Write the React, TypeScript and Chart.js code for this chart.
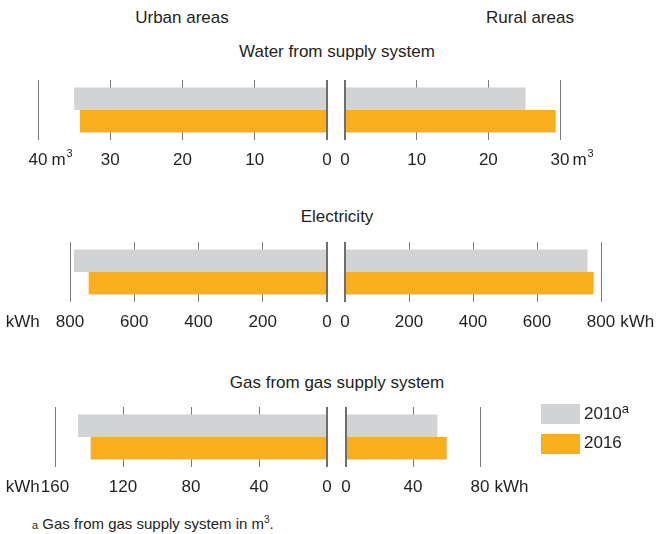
import React, { useEffect, useRef } from 'react';
import { Chart, registerables } from 'chart.js';

Chart.register(...registerables);

// ---------- data ----------
const SERIES = ['2010', '2016'];
const SERIES_SUP = ['a', ''];
const SERIES_COLORS = ['#d1d3d4', '#f9ae1b'];

const AREA_TITLES = ['Urban areas', 'Rural areas'];
const PANEL_TITLES = ['Water from supply system', 'Electricity', 'Gas from gas supply system'];

// values: [2010, 2016]
const WATER_URBAN = [35.0, 34.2];
const WATER_RURAL = [25.2, 29.4];
const ELEC_URBAN = [788, 742];
const ELEC_RURAL = [758, 777];
const GAS_URBAN = [146.5, 139];
const GAS_RURAL = [54.6, 60.1];

const WATER_URBAN_TICKS = [0, 10, 20, 30, 40];
const WATER_RURAL_TICKS = [0, 10, 20, 30];
const ELEC_URBAN_TICKS = [0, 200, 400, 600, 800];
const ELEC_RURAL_TICKS = [0, 200, 400, 600, 800];
const GAS_URBAN_TICKS = [0, 40, 80, 120, 160];
const GAS_RURAL_TICKS = [0, 40, 80];

const UNIT_WATER = 'm';
const UNIT_WATER_SUP = '3';
const UNIT_ENERGY = 'kWh';

const FOOTNOTE_MARK = 'a';
const FOOTNOTE_TEXT = 'Gas from gas supply system in m';
const FOOTNOTE_SUP = '3';
const FOOTNOTE_END = '.';

// ---------- style / layout ----------
const W = 663;
const FONT = '"Liberation Sans", Arial, sans-serif';
const FONT_SIZE = 17;
const TEXT = '#231f20';
const GRID = '#7a7b7e';
const ZERO = '#6d6e71';
const AREA_H = 60;
const AXIS_H = 40;
const TICK_PAD = 10;

type Panel = {
  top: number;
  data: number[];
  ticks: number[];
  left: number;
  right: number;
  reverse: boolean;
  unit: string;
  unitSup: string;
  unitSide: 'before' | 'after';
  gap: number;
};

const PANELS: Panel[] = [
  { top: 80, data: WATER_URBAN, ticks: WATER_URBAN_TICKS, left: 38, right: 327, reverse: true, unit: UNIT_WATER, unitSup: UNIT_WATER_SUP, unitSide: 'after', gap: 4 },
  { top: 80, data: WATER_RURAL, ticks: WATER_RURAL_TICKS, left: 345, right: 560, reverse: false, unit: UNIT_WATER, unitSup: UNIT_WATER_SUP, unitSide: 'after', gap: 3 },
  { top: 242, data: ELEC_URBAN, ticks: ELEC_URBAN_TICKS, left: 70, right: 327, reverse: true, unit: UNIT_ENERGY, unitSup: '', unitSide: 'before', gap: 16 },
  { top: 242, data: ELEC_RURAL, ticks: ELEC_RURAL_TICKS, left: 345, right: 601, reverse: false, unit: UNIT_ENERGY, unitSup: '', unitSide: 'after', gap: 5 },
  { top: 407, data: GAS_URBAN, ticks: GAS_URBAN_TICKS, left: 55, right: 327, reverse: true, unit: UNIT_ENERGY, unitSup: '', unitSide: 'before', gap: 1 },
  { top: 407, data: GAS_RURAL, ticks: GAS_RURAL_TICKS, left: 346, right: 480, reverse: false, unit: UNIT_ENERGY, unitSup: '', unitSide: 'after', gap: 5 },
];

const fontStr = (size: number) => `${size}px ${FONT}`;

const helperPlugin = {
  id: 'helper',
  afterDatasetsDraw(chart: any) {
    const scale = chart.scales.x;
    const area = chart.chartArea;
    const ctx = chart.ctx;
    const x0 = Math.round(scale.getPixelForValue(0));
    ctx.save();
    ctx.strokeStyle = ZERO;
    ctx.lineWidth = 2;
    ctx.beginPath();
    ctx.moveTo(x0, area.top);
    ctx.lineTo(x0, area.bottom);
    ctx.stroke();
    ctx.restore();
  },
  afterDraw(chart: any, _args: any, opts: any) {
    if (!opts || !opts.text) return;
    const scale = chart.scales.x;
    const ctx = chart.ctx;
    ctx.save();
    ctx.font = fontStr(FONT_SIZE);
    ctx.fillStyle = TEXT;
    ctx.textBaseline = 'middle';
    const x = scale.getPixelForValue(opts.value);
    const numW = ctx.measureText(String(opts.value)).width;
    const y = scale.top + TICK_PAD + (FONT_SIZE * 1.2) / 2;
    const mainW = ctx.measureText(opts.text).width;
    ctx.font = fontStr(11);
    const supW = opts.sup ? ctx.measureText(opts.sup).width + 1 : 0;
    ctx.font = fontStr(FONT_SIZE);
    ctx.textAlign = 'left';
    const start = opts.side === 'after' ? x + numW / 2 + opts.gap : x - numW / 2 - opts.gap - mainW - supW;
    ctx.fillText(opts.text, start, y);
    if (opts.sup) {
      ctx.font = fontStr(11);
      ctx.fillText(opts.sup, start + mainW + 1, y - 6);
    }
    ctx.restore();
  },
};

function HalfChart({ p }: { p: Panel }) {
  const ref = useRef<HTMLCanvasElement>(null);
  const H = AREA_H + AXIS_H;
  useEffect(() => {
    if (!ref.current) return;
    const max = p.ticks[p.ticks.length - 1];
    const chart = new Chart(ref.current, {
      type: 'bar',
      data: {
        labels: [''],
        datasets: SERIES.map((s, i) => ({
          label: s,
          data: [p.data[i]],
          backgroundColor: SERIES_COLORS[i],
          borderWidth: 0,
          barPercentage: 1,
          categoryPercentage: 0.75,
        })),
      },
      options: {
        indexAxis: 'y',
        responsive: false,
        animation: false,
        events: [],
        layout: { padding: { left: p.left, right: W - p.right, top: 0, bottom: 0 } },
        plugins: {
          legend: { display: false },
          tooltip: { enabled: false },
          helper: { text: p.unit, sup: p.unitSup, value: max, side: p.unitSide, gap: p.gap },
        } as any,
        scales: {
          x: {
            type: 'linear',
            min: 0,
            max,
            reverse: p.reverse,
            afterBuildTicks: (s: any) => {
              s.ticks = p.ticks.map((v) => ({ value: v }));
            },
            afterFit: (s: any) => {
              s.height = AXIS_H;
            },
            grid: {
              drawTicks: false,
              color: (c: any) => (c.tick && c.tick.value === 0 ? ZERO : GRID),
              lineWidth: (c: any) => (c.tick && c.tick.value === 0 ? 2 : 1),
            },
            border: { display: false },
            ticks: {
              padding: TICK_PAD,
              color: TEXT,
              font: { family: FONT, size: FONT_SIZE },
              maxRotation: 0,
              autoSkip: false,
              callback: (v: any) => String(v),
            },
          },
          y: { display: false },
        },
      } as any,
      plugins: [helperPlugin],
    });
    return () => chart.destroy();
  }, []);
  return (
    <canvas
      ref={ref}
      width={W}
      height={H}
      style={{ position: 'absolute', left: 0, top: p.top, width: W, height: H }}
    />
  );
}

function Label({ text, cx, cy, size = FONT_SIZE }: { text: string; cx: number; cy: number; size?: number }) {
  return (
    <div
      style={{
        position: 'absolute',
        left: cx - 200,
        width: 400,
        top: cy - 10,
        height: 20,
        lineHeight: '20px',
        textAlign: 'center',
        font: fontStr(size),
        color: TEXT,
        whiteSpace: 'nowrap',
      }}
    >
      {text}
    </div>
  );
}

export default function App() {
  return (
    <div
      style={{
        position: 'absolute',
        left: 0,
        top: 0,
        width: W,
        height: 534,
        background: '#ffffff',
        overflow: 'hidden',
        fontFamily: FONT,
        color: TEXT,
      }}
    >
      <Label text={AREA_TITLES[0]} cx={182} cy={18} />
      <Label text={AREA_TITLES[1]} cx={530} cy={18} />
      <Label text={PANEL_TITLES[0]} cx={337} cy={52} />
      <Label text={PANEL_TITLES[1]} cx={337} cy={217} />
      <Label text={PANEL_TITLES[2]} cx={337} cy={383} />

      {PANELS.map((p, i) => (
        <HalfChart key={i} p={p} />
      ))}

      {SERIES.map((s, i) => (
        <div key={s}>
          <div
            style={{
              position: 'absolute',
              left: 541,
              top: 404 + i * 30,
              width: 39,
              height: 20,
              background: SERIES_COLORS[i],
            }}
          />
          <div
            style={{
              position: 'absolute',
              left: 584,
              top: 404 + i * 29,
              height: 22,
              lineHeight: '22px',
              font: fontStr(FONT_SIZE),
              color: TEXT,
              whiteSpace: 'nowrap',
            }}
          >
            {s}
            {SERIES_SUP[i] ? (
              <span style={{ fontSize: 13, position: 'relative', top: -6 }}>{SERIES_SUP[i]}</span>
            ) : null}
          </div>
        </div>
      ))}

      <div
        style={{
          position: 'absolute',
          left: 32,
          top: 515,
          height: 20,
          lineHeight: '20px',
          font: fontStr(15),
          color: TEXT,
          whiteSpace: 'nowrap',
        }}
      >
        <span style={{ fontSize: 11 }}>{FOOTNOTE_MARK}</span> {FOOTNOTE_TEXT}
        <span style={{ fontSize: 10, position: 'relative', top: -6 }}>{FOOTNOTE_SUP}</span>
        {FOOTNOTE_END}
      </div>
    </div>
  );
}
